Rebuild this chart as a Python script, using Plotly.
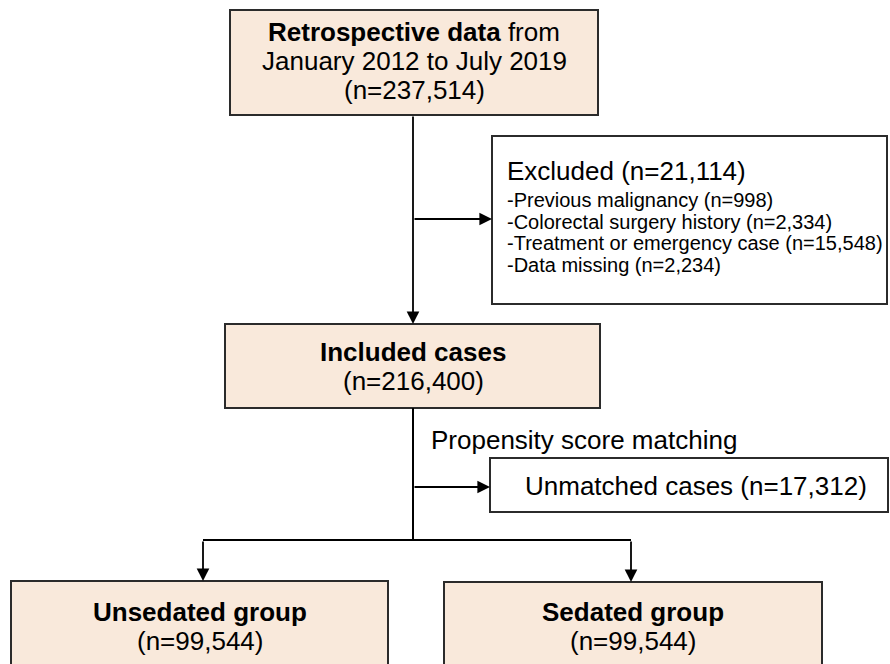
import plotly.graph_objects as go

# ---- data (flowchart content) ----
total_label = ["<b>Retrospective data</b> from", "January 2012 to July 2019"]
total_n = "237,514"
excluded_n = "21,114"
excl_reasons = ["Previous malignancy", "Colorectal surgery history",
                "Treatment or emergency case", "Data missing"]
excl_counts = ["998", "2,334", "15,548", "2,234"]
included_label = "Included cases"
included_n = "216,400"
psm_label = "Propensity score matching"
unmatched_n = "17,312"
group_labels = ["Unsedated group", "Sedated group"]
group_counts = ["99,544", "99,544"]

W, H = 890, 664
FILL = "#F9E9DB"
EDGE = "#2b2b2b"
FONT = "Liberation Sans, Arial, sans-serif"

fig = go.Figure()
shapes = []
ann = []

def box(x0, y0, x1, y1, fill=FILL):
    shapes.append(dict(type="rect", xref="x", yref="y", x0=x0, y0=y0, x1=x1, y1=y1,
                       fillcolor=fill, line=dict(color=EDGE, width=2), layer="below"))

def line(x0, y0, x1, y1):
    shapes.append(dict(type="line", xref="x", yref="y", x0=x0, y0=y0, x1=x1, y1=y1,
                       line=dict(color="black", width=2)))

def arrow(x0, y0, x1, y1):
    ann.append(dict(x=x1, y=y1, ax=x0, ay=y0, xref="x", yref="y", axref="x", ayref="y",
                    text="", showarrow=True, arrowhead=2, arrowsize=1.4, arrowwidth=1.8,
                    arrowcolor="black", standoff=0, startstandoff=0))

def text(x, y, s, size=26, anchor="center"):
    ann.append(dict(x=x, y=y, xref="x", yref="y", text=s, showarrow=False,
                    xanchor=anchor, yanchor="middle",
                    font=dict(family=FONT, size=size, color="black")))

# boxes
box(230, 10, 598, 115)
box(492, 136, 887, 304, fill="white")
box(225, 324, 600, 408)
box(490, 458, 888, 512, fill="white")
box(11, 581, 388, 700)
box(444, 582, 822, 700)

# connectors
arrow(413, 115, 413, 324)
arrow(413, 219, 492, 219)
line(413, 408, 413, 540)
arrow(413, 487, 490, 487)
line(203, 540, 631, 540)
arrow(203, 540, 203, 581)
arrow(631, 540, 631, 582)

# texts
text(414, 32, total_label[0])
text(414, 61, total_label[1])
text(414, 90, f"(n={total_n})")

text(505, 171, f"Excluded (n={excluded_n})", size=26, anchor="left")
for i, (r, c) in enumerate(zip(excl_reasons, excl_counts)):
    text(505, 200 + i * 21.5, f"-{r} (n={c})", size=20, anchor="left")

text(413, 352, f"<b>{included_label}</b>")
text(413, 381, f"(n={included_n})")

text(584, 440, psm_label)
text(696, 486, f"Unmatched cases (n={unmatched_n})")

for cx, lab, n in zip([200, 633], group_labels, group_counts):
    text(cx, 612, f"<b>{lab}</b>")
    text(cx, 641, f"(n={n})")

fig.update_layout(
    width=W, height=H, margin=dict(l=0, r=0, t=0, b=0),
    paper_bgcolor="white", plot_bgcolor="white",
    xaxis=dict(range=[0, W], visible=False, fixedrange=True),
    yaxis=dict(range=[H, 0], visible=False, fixedrange=True),
    shapes=shapes, annotations=ann, showlegend=False,
)
fig.write_html(
    "out.html",
    config={"displayModeBar": False},
    post_script="document.body.style.margin='0';document.body.style.overflow='hidden';",
)
